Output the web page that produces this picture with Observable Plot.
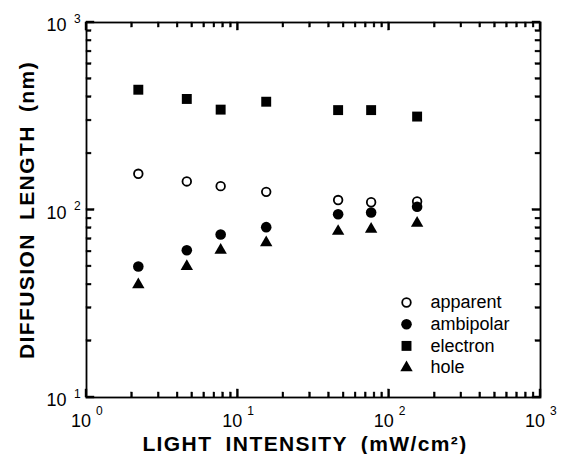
<!DOCTYPE html>
<html>
<head>
<meta charset="utf-8">
<script src="https://cdn.jsdelivr.net/npm/d3@7"></script>
<script src="https://cdn.jsdelivr.net/npm/@observablehq/plot@0.6"></script>
<style>
  html, body { margin: 0; padding: 0; background: #fff; }
  #chart svg { display: block; }
</style>
</head>
<body>
<div id="chart"></div>
<script>
// Light intensity (mW/cm²) at which each diffusion length was measured
const intensity = [2.2, 4.6, 7.7, 15.4, 46, 76, 153];

// Diffusion lengths (nm) for each kind of carrier
const apparent  = [156, 142, 134, 125, 113, 110, 111];
const ambipolar = [50, 61, 74, 81, 95, 97, 104];
const electron  = [438, 391, 343, 378, 341, 341, 315];
const hole      = [40, 50, 61, 67, 77, 79, 85];

const seriesNames = ["apparent", "ambipolar", "electron", "hole"];
const seriesValues = [apparent, ambipolar, electron, hole];

// Axis decades and their exponent labels
const xDecades = [1, 10, 100, 1000];
const xExponents = ["0", "1", "2", "3"];
const yDecades = [10, 100, 1000];
const yExponents = ["1", "2", "3"];
const tickBase = "10";

const xLabel = "LIGHT INTENSITY (mW/cm²)";
const yLabel = "DIFFUSION LENGTH (nm)";

// long table: one row per measured point
const rows = seriesNames.flatMap((name, s) =>
  intensity.map((x, i) => ({series: name, x, y: seriesValues[s][i]}))
);

// minor ticks at 2..9 inside each decade
const minorOf = (decs) => decs.slice(0, -1).flatMap(d => d3.range(2, 10).map(k => k * d));
const xMinor = minorOf(xDecades);
const yMinor = minorOf(yDecades);

// layout
const W = 562, H = 454, mL = 86, mR = 22, mT = 22, mB = 57;
const xDomain = [1, 1000], yDomain = [10, 1000];
const pxPerDecadeX = (W - mL - mR) / Math.log10(xDomain[1] / xDomain[0]);
const pxPerDecadeY = (H - mT - mB) / Math.log10(yDomain[1] / yDomain[0]);
const factor = (px, perDecade) => 10 ** (px / perDecade);

// inward ticks on all four sides, as thin bars sized in pixels
const tickBars = [];
for (const [data, len, w] of [[xDecades, 8, 2], [xMinor, 5, 1.8]]) {
  const hw = factor(w / 2, pxPerDecadeX), L = factor(len, pxPerDecadeY);
  for (const d of data) {
    tickBars.push({x1: d / hw, x2: d * hw, y1: yDomain[0], y2: yDomain[0] * L});
    tickBars.push({x1: d / hw, x2: d * hw, y1: yDomain[1] / L, y2: yDomain[1]});
  }
}
for (const [data, len, w] of [[yDecades, 8, 2], [yMinor, 5, 1.8]]) {
  const hw = factor(w / 2, pxPerDecadeY), L = factor(len, pxPerDecadeX);
  for (const d of data) {
    tickBars.push({x1: xDomain[0], x2: xDomain[0] * L, y1: d / hw, y2: d * hw});
    tickBars.push({x1: xDomain[1] / L, x2: xDomain[1], y1: d / hw, y2: d * hw});
  }
}

const font = "'Liberation Sans', Arial, Helvetica, sans-serif";

const markStyle = {
  apparent:  {symbol: "circle",   r: 4.3, fill: "none",  stroke: "black", strokeWidth: 1.8},
  ambipolar: {symbol: "circle",   r: 5.3, fill: "black", stroke: "none"},
  electron:  {symbol: "square",   r: 5.6, fill: "black", stroke: "none"},
  hole:      {symbol: "triangle", r: 4.6, fill: "black", stroke: "none"}
};

const legendMarks = seriesNames.flatMap((name, i) => {
  const dy = -95 + 21.7 * i;
  return [
    Plot.dot([name], {x: null, y: null, frameAnchor: "bottom-right", dx: -134, dy, ...markStyle[name]}),
    Plot.text([name], {x: null, y: null, text: d => d, frameAnchor: "bottom-right", dx: -110, dy,
      textAnchor: "start", lineAnchor: "middle", fontSize: 18, fill: "black"})
  ];
});

const chart = Plot.plot({
  width: W,
  height: H,
  marginLeft: mL,
  marginRight: mR,
  marginTop: mT,
  marginBottom: mB,
  style: {fontFamily: font, background: "white", color: "black", overflow: "visible"},
  x: {type: "log", domain: xDomain, axis: null},
  y: {type: "log", domain: yDomain, axis: null},
  marks: [
    Plot.frame({fill: "none", stroke: "black", strokeWidth: 1.8}),
    Plot.rect(tickBars, {x1: "x1", x2: "x2", y1: "y1", y2: "y2", fill: "black", stroke: "black", strokeWidth: 0.4, inset: 0}),

    // x tick labels: "10" with a raised exponent
    Plot.text(xDecades, {x: d => d, frameAnchor: "bottom", text: () => tickBase, textAnchor: "end",
      lineAnchor: "bottom", dx: 4.5, dy: 29, fontSize: 18, fill: "black"}),
    Plot.text(xDecades, {x: d => d, frameAnchor: "bottom", text: (d, i) => xExponents[i], textAnchor: "start",
      lineAnchor: "bottom", dx: 9.5, dy: 17, fontSize: 12, fill: "black"}),

    // y tick labels
    Plot.text(yDecades, {y: d => d, frameAnchor: "left", text: () => tickBase, textAnchor: "end",
      lineAnchor: "bottom", dx: -20, dy: 8.5, fontSize: 18, fill: "black"}),
    Plot.text(yDecades, {y: d => d, frameAnchor: "left", text: (d, i) => yExponents[i], textAnchor: "start",
      lineAnchor: "bottom", dx: -12.5, dy: 0, fontSize: 12, fill: "black"}),

    // axis titles
    Plot.text([xLabel], {x: null, y: null, text: d => d, frameAnchor: "bottom", textAnchor: "middle",
      dx: -8.5, dy: 53, lineAnchor: "bottom", fontSize: 21, fontWeight: "bold", fill: "black"}),
    Plot.text([yLabel], {x: null, y: null, text: d => d, frameAnchor: "left", textAnchor: "middle",
      rotate: -90, dx: -53, dy: 0, lineAnchor: "bottom", fontSize: 21, fontWeight: "bold", fill: "black"}),

    // measured points
    ...seriesNames.map(name =>
      Plot.dot(rows.filter(d => d.series === name), {x: "x", y: "y", ...markStyle[name]})
    ),

    ...legendMarks
  ]
});

// wider tracking on the two axis titles
d3.select(chart).selectAll("text")
  .filter(function() { return this.textContent === xLabel || this.textContent === yLabel; })
  .attr("letter-spacing", 1.4)
  .attr("word-spacing", 6);

document.getElementById("chart").appendChild(chart);
</script>
</body>
</html>
